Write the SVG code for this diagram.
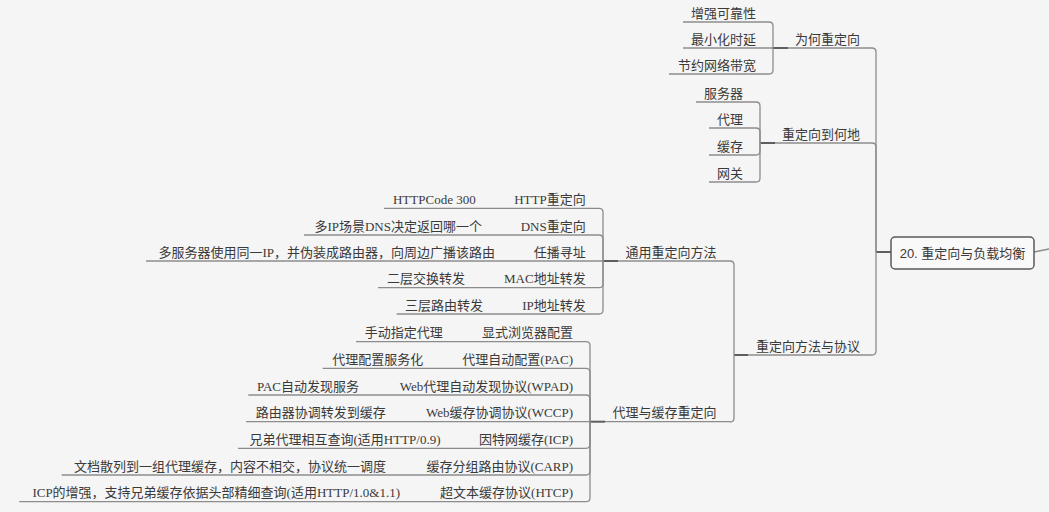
<svg xmlns="http://www.w3.org/2000/svg" width="1049" height="512" viewBox="0 0 1049 512">
<style>
.bg{fill:#f5f5f5}
.t{font-family:"Liberation Serif","Noto Sans CJK SC",serif;font-size:13px;fill:#3a3a3a}
.m{text-anchor:middle}
.e{text-anchor:end}
.rt{font-family:"Liberation Sans","Noto Sans CJK SC",sans-serif;font-size:13px;fill:#3a3a3a;text-anchor:middle}
.u{stroke:#8c8c8c;stroke-width:1.3;fill:none}
.c{stroke:#8c8c8c;stroke-width:1.3;fill:none}
.s{stroke:#5e5e5e;stroke-width:2;fill:none}
</style>
<rect class="bg" x="0" y="0" width="1049" height="512"/>

<g id="connectors">
  <!-- root to right -->
  <path class="c" d="M1034 252 L1049 249"/>
  <!-- root trunk -->
  <path class="s" d="M876 252 H891"/>
  <path class="c" d="M876 252 V52 Q876 48 872 48"/>
  <path class="c" d="M876 252 V147 Q876 143 872 143"/>
  <path class="c" d="M876 252 V351 Q876 355 872 355"/>
  <!-- why -->
  <path class="s" d="M773 48 H788"/>
  <path class="c" d="M773 48 V26 Q773 22 769 22"/>
  <path class="c" d="M773 48 V70 Q773 74 769 74"/>
  <!-- where -->
  <path class="s" d="M760 143 H775"/>
  <path class="c" d="M760 143 V106 Q760 102 756 102"/>
  <path class="c" d="M760 143 V132 Q760 128 756 128"/>
  <path class="c" d="M760 143 V151 Q760 155 756 155"/>
  <path class="c" d="M760 143 V178 Q760 182 756 182"/>
  <!-- methods -->
  <path class="s" d="M734 355 H748"/>
  <path class="c" d="M734 355 V265 Q734 261 730 261"/>
  <path class="c" d="M734 355 V418 Q734 422 730 422"/>
  <!-- general -->
  <path class="s" d="M603 261 H618"/>
  <path class="c" d="M603 261 V212.3 Q603 208.3 599 208.3"/>
  <path class="c" d="M603 261 V239 Q603 235 599 235"/>
  <path class="c" d="M603 261 V283.7 Q603 287.7 599 287.7"/>
  <path class="c" d="M603 261 V310 Q603 314 599 314"/>
  <!-- proxy -->
  <path class="s" d="M590 421.7 H605"/>
  <path class="c" d="M590 421.7 V345.7 Q590 341.7 586 341.7"/>
  <path class="c" d="M590 421.7 V372.3 Q590 368.3 586 368.3"/>
  <path class="c" d="M590 421.7 V399 Q590 395 586 395"/>
  <path class="c" d="M590 421.7 V444.3 Q590 448.3 586 448.3"/>
  <path class="c" d="M590 421.7 V471 Q590 475 586 475"/>
  <path class="c" d="M590 421.7 V497.7 Q590 501.7 586 501.7"/>
</g>

<g id="root">
  <rect x="891" y="237" width="143" height="32" rx="4" fill="#f9f9f9" stroke="#5a5a5a" stroke-width="1.5"/>
  <text class="rt" x="962.5" y="258">20. 重定向与负载均衡</text>
</g>

<g id="n-why">
  <line class="u" x1="788" y1="48" x2="872" y2="48"/>
  <text class="t m" x="827.5" y="43.5">为何重定向</text>
</g>
<g id="n-why-1">
  <line class="u" x1="683" y1="22" x2="769" y2="22"/>
  <text class="t e" x="756" y="17.5">增强可靠性</text>
</g>
<g id="n-why-2">
  <line class="u" x1="683" y1="48" x2="773" y2="48"/>
  <text class="t e" x="756" y="43.5">最小化时延</text>
</g>
<g id="n-why-3">
  <line class="u" x1="669" y1="74" x2="769" y2="74"/>
  <text class="t e" x="756" y="69.5">节约网络带宽</text>
</g>

<g id="n-where">
  <line class="u" x1="775" y1="143" x2="872" y2="143"/>
  <text class="t m" x="821" y="138.5">重定向到何地</text>
</g>
<g id="n-where-1">
  <line class="u" x1="696" y1="102" x2="756" y2="102"/>
  <text class="t e" x="743" y="97.5">服务器</text>
</g>
<g id="n-where-2">
  <line class="u" x1="709" y1="128" x2="756" y2="128"/>
  <text class="t e" x="743" y="123.5">代理</text>
</g>
<g id="n-where-3">
  <line class="u" x1="709" y1="155" x2="756" y2="155"/>
  <text class="t e" x="743" y="150.5">缓存</text>
</g>
<g id="n-where-4">
  <line class="u" x1="709" y1="182" x2="756" y2="182"/>
  <text class="t e" x="743" y="177.5">网关</text>
</g>

<g id="n-methods">
  <line class="u" x1="748" y1="355" x2="872" y2="355"/>
  <text class="t m" x="808" y="350.5">重定向方法与协议</text>
</g>

<g id="n-general">
  <line class="u" x1="618" y1="261" x2="730" y2="261"/>
  <text class="t m" x="671" y="256.5">通用重定向方法</text>
</g>
<g id="n-http">
  <line class="u" x1="507" y1="208.3" x2="599" y2="208.3"/>
  <text class="t e" x="585.7" y="203.8">HTTP重定向</text>
</g>
<g id="n-http-1">
  <line class="u" x1="384" y1="208.3" x2="507" y2="208.3"/>
  <text class="t e" x="475.7" y="203.8">HTTPCode 300</text>
</g>
<g id="n-dns">
  <line class="u" x1="513" y1="235" x2="599" y2="235"/>
  <text class="t e" x="585.7" y="230.5">DNS重定向</text>
</g>
<g id="n-dns-1">
  <line class="u" x1="304" y1="235" x2="513" y2="235"/>
  <text class="t e" x="482" y="230.5">多IP场景DNS决定返回哪一个</text>
</g>
<g id="n-anycast">
  <line class="u" x1="527" y1="261" x2="603" y2="261"/>
  <text class="t e" x="585.7" y="256.5">任播寻址</text>
</g>
<g id="n-anycast-1">
  <line class="u" x1="146" y1="261" x2="527" y2="261"/>
  <text class="t e" x="495" y="256.5">多服务器使用同一IP，并伪装成路由器，向周边广播该路由</text>
</g>
<g id="n-mac">
  <line class="u" x1="497" y1="287.7" x2="599" y2="287.7"/>
  <text class="t e" x="585.7" y="283.2">MAC地址转发</text>
</g>
<g id="n-mac-1">
  <line class="u" x1="378" y1="287.7" x2="497" y2="287.7"/>
  <text class="t e" x="465" y="283.2">二层交换转发</text>
</g>
<g id="n-ip">
  <line class="u" x1="515" y1="314" x2="599" y2="314"/>
  <text class="t e" x="585.7" y="309.5">IP地址转发</text>
</g>
<g id="n-ip-1">
  <line class="u" x1="396.7" y1="314" x2="515" y2="314"/>
  <text class="t e" x="483" y="309.5">三层路由转发</text>
</g>

<g id="n-proxy">
  <line class="u" x1="605" y1="421.7" x2="730" y2="421.7"/>
  <text class="t m" x="664.5" y="417.2">代理与缓存重定向</text>
</g>
<g id="n-explicit">
  <line class="u" x1="474" y1="341.7" x2="586" y2="341.7"/>
  <text class="t e" x="573" y="337.2">显式浏览器配置</text>
</g>
<g id="n-explicit-1">
  <line class="u" x1="356" y1="341.7" x2="474" y2="341.7"/>
  <text class="t e" x="442.7" y="337.2">手动指定代理</text>
</g>
<g id="n-pac">
  <line class="u" x1="454" y1="368.3" x2="586" y2="368.3"/>
  <text class="t e" x="573" y="363.8">代理自动配置(PAC)</text>
</g>
<g id="n-pac-1">
  <line class="u" x1="322.7" y1="368.3" x2="454" y2="368.3"/>
  <text class="t e" x="423.3" y="363.8">代理配置服务化</text>
</g>
<g id="n-wpad">
  <line class="u" x1="391" y1="395" x2="586" y2="395"/>
  <text class="t e" x="573" y="390.5">Web代理自动发现协议(WPAD)</text>
</g>
<g id="n-wpad-1">
  <line class="u" x1="248.3" y1="395" x2="391" y2="395"/>
  <text class="t e" x="359" y="390.5">PAC自动发现服务</text>
</g>
<g id="n-wccp">
  <line class="u" x1="418" y1="421.7" x2="590" y2="421.7"/>
  <text class="t e" x="573" y="417.2">Web缓存协调协议(WCCP)</text>
</g>
<g id="n-wccp-1">
  <line class="u" x1="246" y1="421.7" x2="418" y2="421.7"/>
  <text class="t e" x="385.7" y="417.2">路由器协调转发到缓存</text>
</g>
<g id="n-icp">
  <line class="u" x1="471" y1="448.3" x2="586" y2="448.3"/>
  <text class="t e" x="573" y="443.8">因特网缓存(ICP)</text>
</g>
<g id="n-icp-1">
  <line class="u" x1="238" y1="448.3" x2="471" y2="448.3"/>
  <text class="t e" x="440.5" y="443.8">兄弟代理相互查询(适用HTTP/0.9)</text>
</g>
<g id="n-carp">
  <line class="u" x1="417" y1="475" x2="586" y2="475"/>
  <text class="t e" x="573" y="470.5">缓存分组路由协议(CARP)</text>
</g>
<g id="n-carp-1">
  <line class="u" x1="61.7" y1="475" x2="417" y2="475"/>
  <text class="t e" x="386" y="470.5">文档散列到一组代理缓存，内容不相交，协议统一调度</text>
</g>
<g id="n-htcp">
  <line class="u" x1="431" y1="501.7" x2="586" y2="501.7"/>
  <text class="t e" x="573" y="497.2">超文本缓存协议(HTCP)</text>
</g>
<g id="n-htcp-1">
  <line class="u" x1="19.3" y1="501.7" x2="431" y2="501.7"/>
  <text class="t e" x="400" y="497.2">ICP的增强，支持兄弟缓存依据头部精细查询(适用HTTP/1.0&amp;1.1)</text>
</g>
</svg>
